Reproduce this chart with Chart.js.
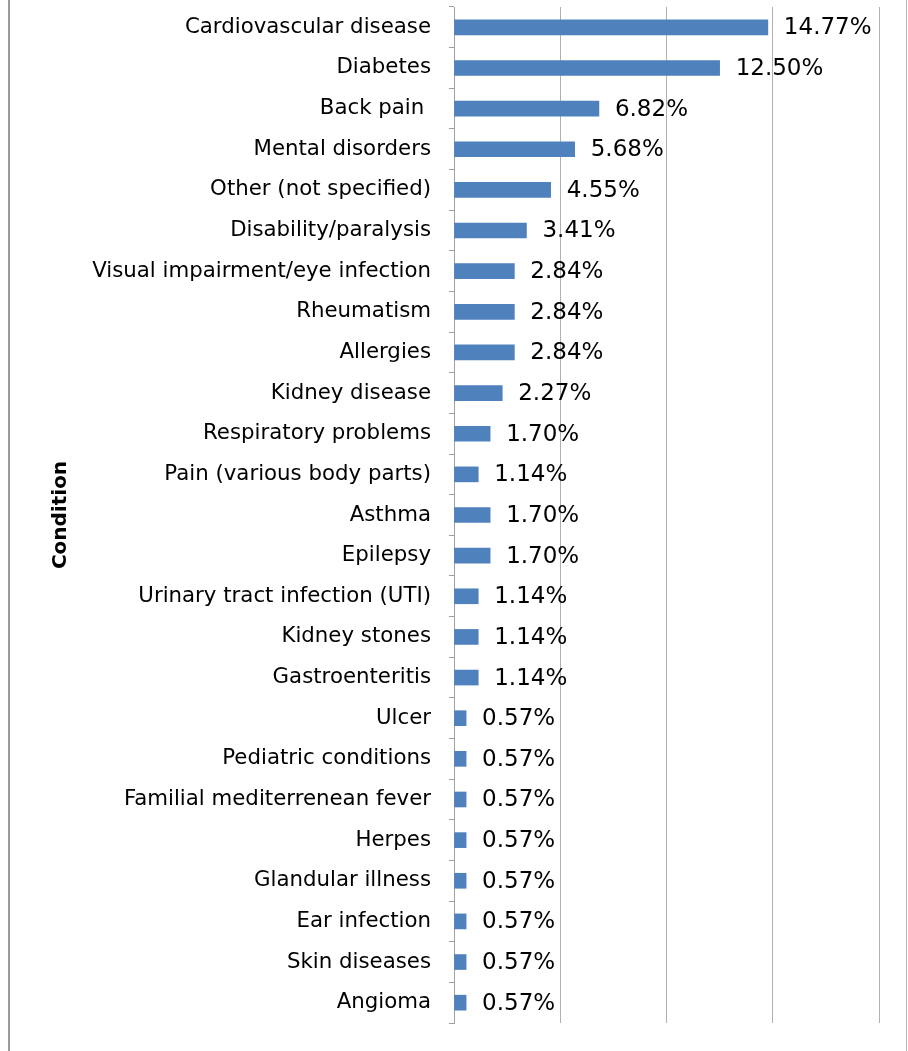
<!DOCTYPE html>
<html>
<head>
<meta charset="utf-8">
<script src="https://cdn.jsdelivr.net/npm/chart.js@4.4.0/dist/chart.umd.min.js"></script>
<style>
html,body{margin:0;padding:0;background:#fff;}
#wrap{position:relative;width:908px;height:1051px;}
</style>
</head>
<body>
<div id="wrap"><canvas id="c" width="908" height="1051"></canvas></div>
<script>
const categories = [
  "Cardiovascular disease","Diabetes","Back pain ","Mental disorders","Other (not specified)",
  "Disability/paralysis","Visual impairment/eye infection","Rheumatism","Allergies","Kidney disease",
  "Respiratory problems","Pain (various body parts)","Asthma","Epilepsy","Urinary tract infection (UTI)",
  "Kidney stones","Gastroenteritis","Ulcer","Pediatric conditions","Familial mediterrenean fever",
  "Herpes","Glandular illness","Ear infection","Skin diseases","Angioma"
];
const values = [14.77,12.50,6.82,5.68,4.55,3.41,2.84,2.84,2.84,2.27,1.70,1.14,1.70,1.70,1.14,1.14,1.14,0.57,0.57,0.57,0.57,0.57,0.57,0.57,0.57];
const axisTitle = "Condition";
const xMax = 20;
const xStep = 5;

const FONT = "'DejaVu Sans', sans-serif";

const frame = {
  id: 'frame',
  afterDraw(chart) {
    const ctx = chart.ctx;
    ctx.save();
    ctx.fillStyle = '#9a9a9a';
    ctx.fillRect(8, 0, 2, 1051);
    ctx.fillStyle = '#b5b5b5';
    ctx.fillRect(906, 0, 1, 1051);
    ctx.restore();
  }
};

const dataLabels = {
  id: 'dataLabels',
  afterDatasetsDraw(chart) {
    const ctx = chart.ctx;
    const meta = chart.getDatasetMeta(0);
    ctx.save();
    ctx.font = "23px " + FONT;
    ctx.fillStyle = '#000';
    ctx.textAlign = 'left';
    ctx.textBaseline = 'middle';
    meta.data.forEach((bar, i) => {
      ctx.fillText(values[i].toFixed(2) + '%', bar.x + 16, bar.y + 1);
    });
    ctx.restore();
  }
};

new Chart(document.getElementById('c'), {
  type: 'bar',
  data: {
    labels: categories,
    datasets: [{
      data: values,
      backgroundColor: '#4F81BD',
      borderWidth: 0,
      barThickness: 15
    }]
  },
  options: {
    indexAxis: 'y',
    responsive: false,
    animation: false,
    devicePixelRatio: 1,
    layout: { padding: { top: 7, bottom: 28, right: 29, left: 0 } },
    plugins: { legend: { display: false }, tooltip: { enabled: false } },
    scales: {
      x: {
        min: 0, max: xMax,
        ticks: { display: false, stepSize: xStep },
        grid: { color: '#b0b0b0', lineWidth: 1, drawTicks: false },
        border: { display: false },
        afterFit(scale) { scale.height = 0; scale.paddingLeft = 0; scale.paddingRight = 0; }
      },
      y: {
        afterFit(scale) { scale.width = 454; scale.paddingTop = 0; scale.paddingBottom = 0; },
        ticks: { color: '#000', font: { family: FONT, size: 21.3 }, padding: 18, autoSkip: false },
        grid: { offset: true, drawOnChartArea: false, drawTicks: true, tickLength: 5, color: '#a0a0a0' },
        border: { display: true, color: '#a0a0a0', width: 1 },
        title: { display: true, text: axisTitle, color: '#000', font: { family: FONT, size: 20, weight: 'bold' }, padding: { top: 49, bottom: 0 } }
      }
    }
  },
  plugins: [frame, dataLabels]
});
</script>
</body>
</html>
